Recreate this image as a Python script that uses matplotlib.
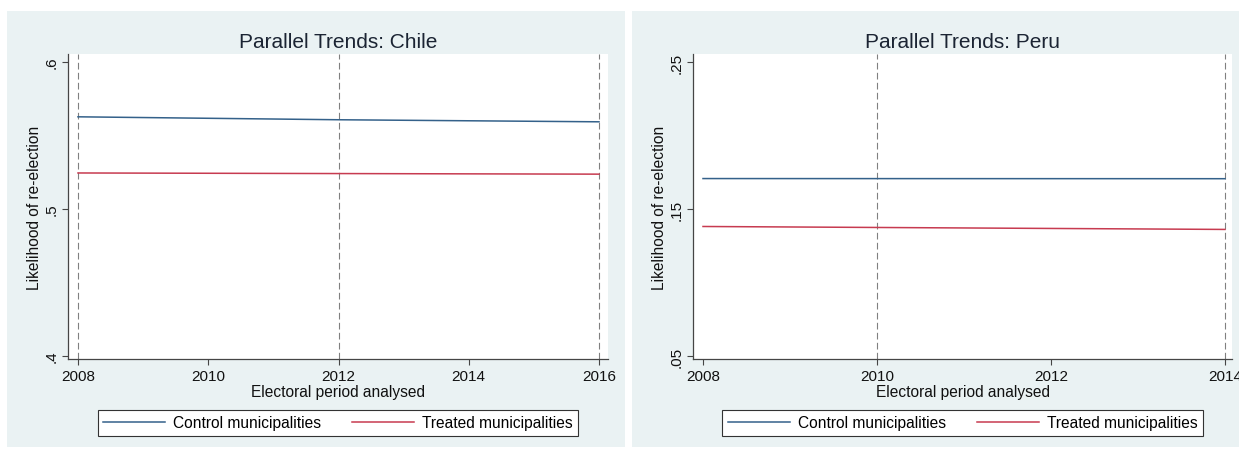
import matplotlib
matplotlib.use("Agg")
import matplotlib.pyplot as plt
from matplotlib.patches import Rectangle
from matplotlib.lines import Line2D

plt.rcParams["font.family"] = ["Liberation Sans", "DejaVu Sans"]

# ---- data -------------------------------------------------------------
chile_years = [2008, 2012, 2016]
chile_control = [0.5627, 0.5607, 0.5593]
chile_treated = [0.5245, 0.5241, 0.5237]
chile_xticks = [2008, 2010, 2012, 2014, 2016]
chile_yticks = [0.4, 0.5, 0.6]
chile_yticklabels = [".4", ".5", ".6"]
chile_elections = [2008, 2012, 2016]

peru_years = [2008, 2014]
peru_control = [0.1707, 0.1706]
peru_treated = [0.1381, 0.1361]
peru_xticks = [2008, 2010, 2012, 2014]
peru_yticks = [0.05, 0.15, 0.25]
peru_yticklabels = [".05", ".15", ".25"]
peru_elections = [2010, 2014]

series_labels = ["Control municipalities", "Treated municipalities"]
x_title = "Electoral period analysed"
y_title = "Likelihood of re-election"

# ---- style ------------------------------------------------------------
W, H = 1239, 452
BG = "#EAF2F3"
BLUE = "#34618A"
RED = "#C73B50"
AXIS = "#454545"
TEXT = "#111111"

fig = plt.figure(figsize=(W / 100, H / 100), dpi=100, facecolor="white")


def fig_box(x0, y0, x1, y1):
    return [x0 / W, 1 - y1 / H, (x1 - x0) / W, (y1 - y0) / H]


def draw_panel(bg, plot, xlim, ylim, title, years, control, treated,
               xticks, yticks, yticklabels, elections):
    fig.patches.append(Rectangle((bg[0] / W, 1 - bg[3] / H),
                                 (bg[2] - bg[0]) / W, (bg[3] - bg[1]) / H,
                                 transform=fig.transFigure, facecolor=BG,
                                 edgecolor="none", zorder=-1))
    ax = fig.add_axes(fig_box(*plot))
    ax.set_facecolor("white")
    ax.set_xlim(*xlim)
    ax.set_ylim(*ylim)

    for v in elections:
        ax.axvline(v, color="#808080", lw=0.8, linestyle=(0, (6, 3)), zorder=1)
    ax.plot(years, control, color=BLUE, lw=1.1, zorder=3)
    ax.plot(years, treated, color=RED, lw=1.1, zorder=3)

    for s in ("top", "right"):
        ax.spines[s].set_visible(False)
    for s in ("left", "bottom"):
        ax.spines[s].set_color(AXIS)
        ax.spines[s].set_linewidth(0.9)

    ax.set_xticks(xticks)
    ax.set_xticklabels([str(x) for x in xticks])
    ax.set_yticks(yticks)
    ax.set_yticklabels(yticklabels, rotation=90, va="center")
    ax.tick_params(direction="out", length=4.5, width=0.8, color=AXIS,
                   labelsize=11, labelcolor=TEXT)
    ax.tick_params(axis="x", pad=2.5)
    ax.tick_params(axis="y", pad=2.5)

    ax.set_xlabel(x_title, fontsize=11.2, color=TEXT, labelpad=1)
    ax.set_ylabel(y_title, fontsize=11.2, color=TEXT)
    ax.yaxis.set_label_coords(-0.048, 0.5)

    cx = (plot[0] + plot[2]) / 2
    fig.text(cx / W, 1 - 48 / H, title, ha="center", va="baseline",
             fontsize=15, color="#1B2433")

    handles = [Line2D([], [], color=BLUE, lw=1.1),
               Line2D([], [], color=RED, lw=1.1)]
    leg = fig.legend(handles, series_labels, loc="center",
                     bbox_to_anchor=(cx / W, 1 - 424 / H), ncol=2,
                     fontsize=11.2, frameon=True, fancybox=False,
                     edgecolor="#333333", facecolor="white", framealpha=1,
                     handlelength=4.0, handletextpad=0.5, columnspacing=2.0,
                     borderpad=0.35, borderaxespad=0)
    leg.get_frame().set_linewidth(0.8)
    return ax


draw_panel(bg=(7, 12, 625, 448), plot=(68, 55, 608, 360),
           xlim=(2008 - 10 / 65.125, 2016 + 9 / 65.125),
           ylim=(0.4 - 3 / 1475, 0.6 + 8 / 1475),
           title="Parallel Trends: Chile",
           years=chile_years, control=chile_control, treated=chile_treated,
           xticks=chile_xticks, yticks=chile_yticks,
           yticklabels=chile_yticklabels, elections=chile_elections)

draw_panel(bg=(632, 12, 1239, 448), plot=(693, 55, 1232, 360),
           xlim=(2008 - 10 / 87, 2014 + 7 / 87),
           ylim=(0.05 - 3 / 1475, 0.25 + 8 / 1475),
           title="Parallel Trends: Peru",
           years=peru_years, control=peru_control, treated=peru_treated,
           xticks=peru_xticks, yticks=peru_yticks,
           yticklabels=peru_yticklabels, elections=peru_elections)

fig.savefig("out.png", dpi=100, facecolor="white")
